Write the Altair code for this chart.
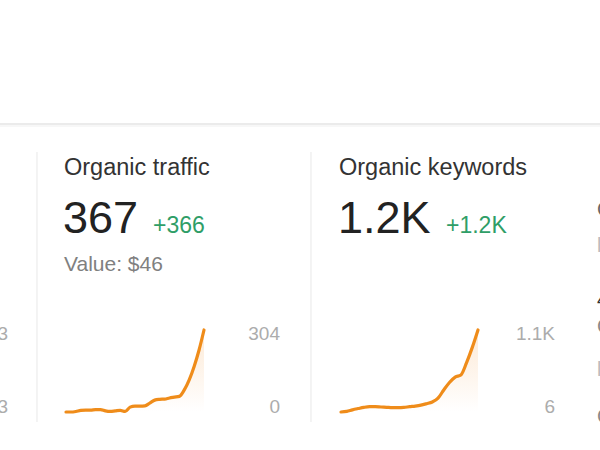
import altair as alt
import pandas as pd

# ---- data ----
traffic_values = [0, 0, 2, 6, 7, 7, 9, 9, 4, 2, 4, 6, 2, 18, 22, 22, 23, 33, 44,
                  47, 48, 52, 55, 58, 82, 119, 169, 230, 304]
keyword_values = [6, 15, 35, 52, 68, 77, 77, 73, 69, 65, 64, 67, 77, 85, 97, 117,
                  140, 190, 300, 400, 472, 500, 665, 868, 1100]

panel_titles = ["Organic traffic", "Organic keywords"]
panel_numbers = ["367", "1.2K"]
panel_deltas = ["+366", "+1.2K"]
panel_subtitles = ["Value: $46"]
traffic_axis_labels = ["304", "0"]
keyword_axis_labels = ["1.1K", "6"]
left_clipped_labels = ["3", "3"]
right_clipped_chars = ["C", "l", "4", "C", "l", "C"]

FONT = "Liberation Sans"
ORANGE = "#ef8c1a"
GREEN = "#2f9e67"


def txt(s, x, y, size, color, align="left", weight="normal"):
    return alt.Chart(pd.DataFrame({"t": [s]})).mark_text(
        align=align, baseline="alphabetic", font=FONT, fontSize=size,
        color=color, fontWeight=weight
    ).encode(x=alt.value(x), y=alt.value(y), text="t:N")


def rule(x, x2, y, y2, color, w):
    return alt.Chart(pd.DataFrame({"a": [0]})).mark_rule(
        color=color, strokeWidth=w
    ).encode(x=alt.value(x), x2=alt.value(x2), y=alt.value(y), y2=alt.value(y2))


grad = alt.Gradient(
    gradient="linear",
    stops=[alt.GradientStop(color="#f6b877", offset=0),
           alt.GradientStop(color="#ffffff", offset=1)],
    x1=1, x2=1, y1=0, y2=1,
)


def spark(values, domain, xr, yr):
    df = pd.DataFrame({"i": list(range(len(values))), "v": values})
    xs = alt.X("i:Q", scale=alt.Scale(domain=[0, len(values) - 1], range=xr), axis=None)
    ys = alt.Y("v:Q", scale=alt.Scale(domain=domain, range=yr, zero=False, nice=False), axis=None)
    base = alt.Chart(df)
    area = base.mark_area(color=grad, opacity=0.3, interpolate="monotone").encode(
        x=xs, y=ys, y2=alt.datum(domain[0]))
    line = base.mark_line(color=ORANGE, strokeWidth=3.2, interpolate="monotone",
                          strokeCap="round", strokeJoin="round").encode(x=xs, y=ys)
    return alt.layer(area, line).resolve_scale(x="shared", y="shared")


layers = [
    rule(0, 600, 124, 124, "#e4e4e4", 1.5),
    rule(0, 600, 126, 126, "#f5f5f5", 1.5),
    rule(37, 37, 152, 422, "#ececec", 1.2),
    rule(311, 311, 152, 422, "#ececec", 1.2),
    # panel 1
    txt(panel_titles[0], 64, 175, 23.5, "#333333"),
    txt(panel_numbers[0], 63, 233, 45, "#222222"),
    txt(panel_deltas[0], 153, 233, 23, GREEN),
    txt(panel_subtitles[0], 64, 271, 21, "#808080"),
    txt(traffic_axis_labels[0], 280, 340, 19, "#acacac", align="right"),
    txt(traffic_axis_labels[1], 280, 413, 19, "#acacac", align="right"),
    # panel 2
    txt(panel_titles[1], 339, 175, 23.5, "#333333"),
    txt(panel_numbers[1], 338, 233, 45, "#222222"),
    txt(panel_deltas[1], 446, 233, 23, GREEN),
    txt(keyword_axis_labels[0], 555, 340, 19, "#acacac", align="right"),
    txt(keyword_axis_labels[1], 555, 413, 19, "#acacac", align="right"),
    # clipped neighbours
    txt(left_clipped_labels[0], 8, 340, 19, "#acacac", align="right"),
    txt(left_clipped_labels[1], 8, 413, 19, "#acacac", align="right"),
]
right_ys = [216, 252, 306, 333, 376, 423]
right_cols = ["#666666", "#bbbbbb", "#333333", "#888888", "#bbbbbb", "#888888"]
for ch, yy, cc in zip(right_clipped_chars, right_ys, right_cols):
    layers.append(txt(ch, 597, yy, 20, cc))

s1 = spark(traffic_values, [0, 304], [66, 204], [412, 330])
s2 = spark(keyword_values, [6, 1100], [341, 478], [412, 330])

chart = alt.layer(*layers, s1, s2).resolve_scale(
    x="independent", y="independent"
).properties(
    width=600, height=450, autosize=alt.AutoSizeParams(type="none"), padding=0,
    background="white"
).configure_view(stroke=None)

chart.save("out.html", embed_options={"renderer": "svg", "actions": False})
